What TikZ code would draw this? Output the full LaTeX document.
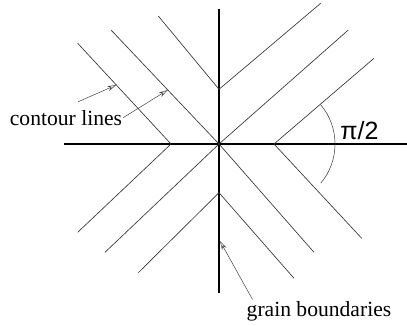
\documentclass[tikz,border=0pt]{standalone}
\usepackage{fontspec}
\setmainfont{Liberation Serif}
\newfontfamily\anglefont{Liberation Sans}
\usetikzlibrary{arrows.meta,calc}

\begin{document}
\begin{tikzpicture}[x=1pt,y=1pt,
  boundary/.style={black, line width=1.2pt},
  contour/.style={black!80, line width=0.65pt},
  pointer/.style={black!75, line width=0.5pt, -{Stealth[open, length=9pt, width=5pt]}},
  label/.style={font=\fontsize{21.6}{26}\selectfont, inner sep=1pt}]
\useasboundingbox (-219,-181) rectangle (188,144);
% grain boundaries and their junctions
\coordinate (O) at (0,0);
\coordinate (gbL) at (-48,0);
\coordinate (gbR) at (55,0);
\coordinate (gbT) at (0,54.7);
\coordinate (gbB) at (0,-48.7);
\draw[boundary] (-155,0) -- (188,0);
\draw[boundary] (0,135) -- (0,-149);
% contour lines
\draw[contour] (gbL) -- ++(-93.3,100.7) coordinate (cl1);
\draw[contour] (O) -- ++(-108,114) coordinate (cl2);
\draw[contour] (gbT) -- ++(-60.7,73.3);
\draw[contour] (gbT) -- ++(101.7,86);
\draw[contour] (O) -- ++(129.3,114);
\draw[contour] (gbR) -- ++(100,85.7);
\draw[contour] (gbL) -- ++(-93.3,-88.3);
\draw[contour] (O) -- ++(-114,-108.3);
\draw[contour] (gbB) -- ++(-80.7,-80);
\draw[contour] (gbR) -- ++(87.7,-94.3);
\draw[contour] (O) -- ++(95,-108.3);
\draw[contour] (gbB) -- ++(75,-85.6);
% angle between the contour lines
\draw[contour, line width=0.5pt] ([shift={(40:61)}]gbR) arc[start angle=40, end angle=-40, radius=61];
\node[font=\anglefont\fontsize{25}{28}\selectfont, inner sep=0pt] (angle) at (140.5,13) {π/2};
% labels
\node[label, anchor=base] (contourlbl) at (-153,19) {contour lines};
\node[label, anchor=base] (grainlbl) at (100,-172.7) {grain boundaries};
\coordinate (tip1) at ($(gbL)!0.586!(cl1)$);
\coordinate (tip2) at ($(O)!0.474!(cl2)$);
\coordinate (tip3) at (1,-97);
\draw[pointer] ([shift={(12,7)}]contourlbl.north) -- (tip1);
\draw[pointer] (contourlbl.east) -- (tip2);
\draw[pointer] ([shift={(7,1)}]grainlbl.north west) -- (tip3);
\end{tikzpicture}
\end{document}
